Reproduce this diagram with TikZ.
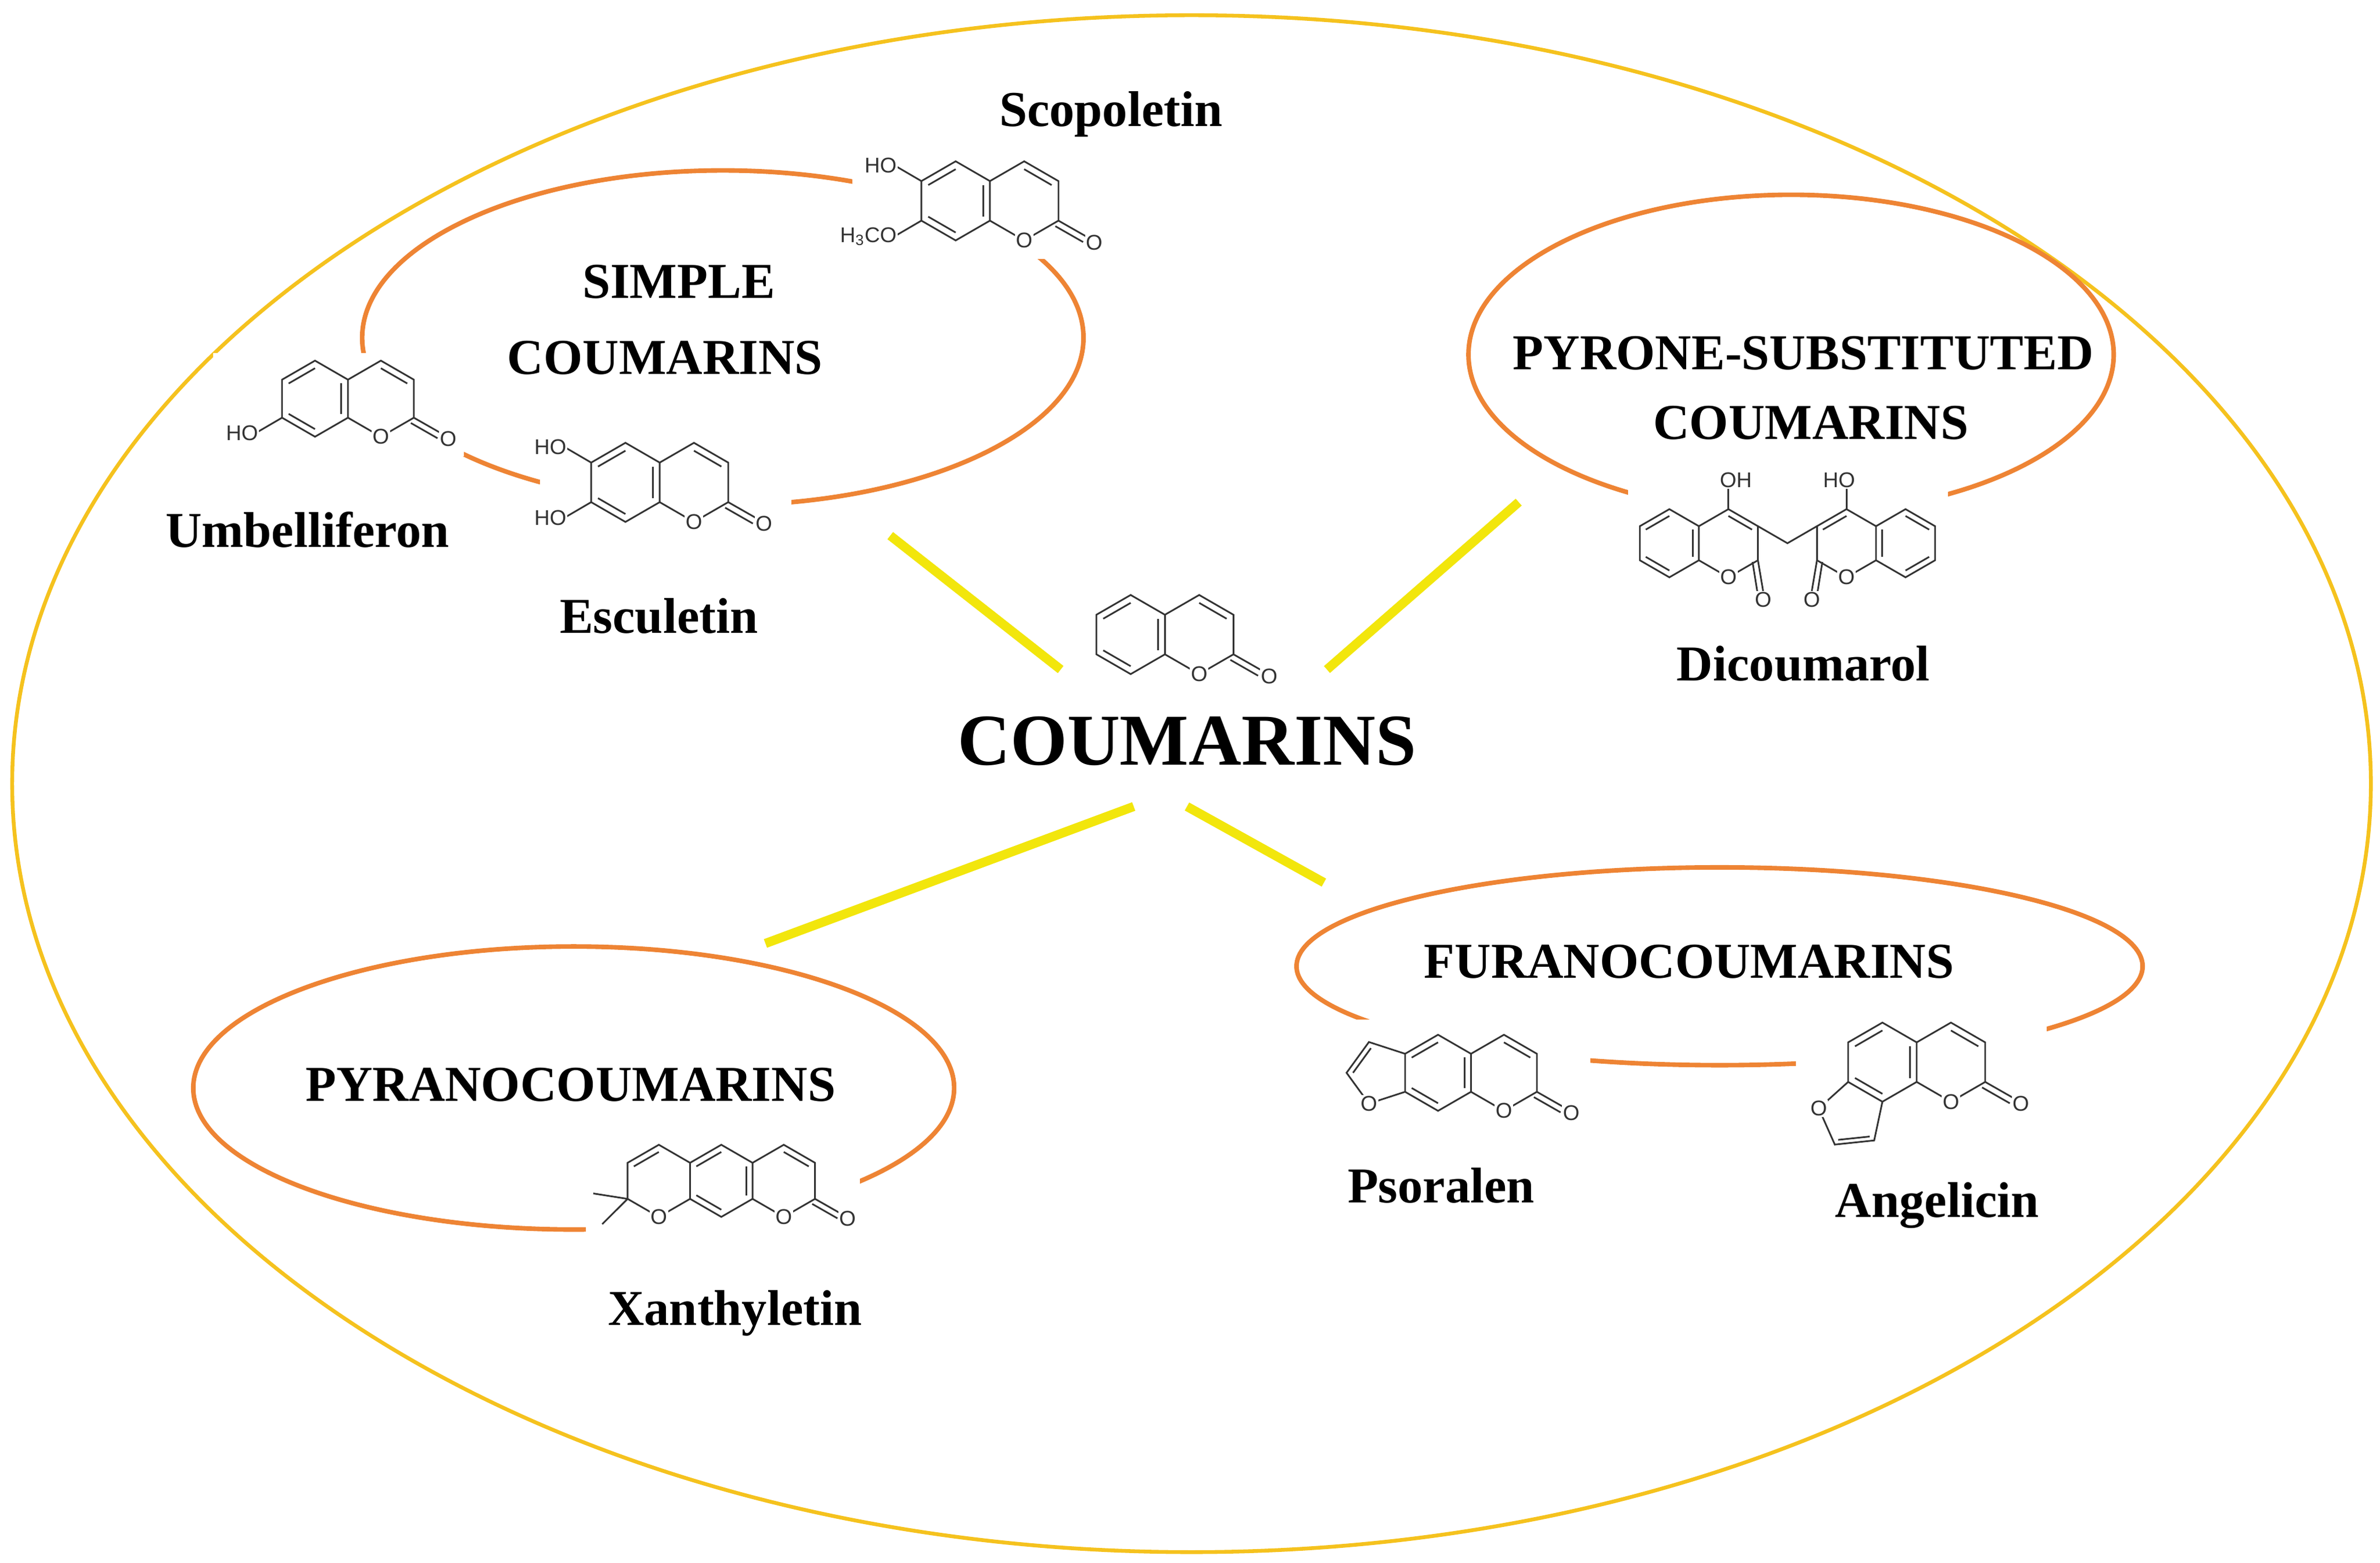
\documentclass[tikz,border=0pt]{standalone}
\usepackage{fontspec}
\setmainfont{Liberation Serif}
\newfontfamily\atomfont{Liberation Sans}
\usetikzlibrary{calc}
\definecolor{bigell}{HTML}{F5C21E}
\definecolor{orell}{HTML}{EE8434}
\definecolor{yel}{HTML}{F2E60C}
\newcommand\ibond[3]{\draw ($(#1)!0.2!(#3)$)--($(#2)!0.2!(#3)$);}
\newcommand\mycbase{%
  \draw (0,-1)--(0.866,-0.5)--(0.866,0.5)--(0,1)--(-0.866,0.5)--(-0.866,-0.5)--cycle;
  \draw (0.866,-0.5)--(1.732,-1)--(2.598,-0.5)--(2.598,0.5)--(1.732,1)--(0.866,0.5);
  \ibond{-0.866,-0.5}{0,-1}{0,0}
  \ibond{0.866,-0.5}{0.866,0.5}{0,0}
  \ibond{0,1}{-0.866,0.5}{0,0}
  \ibond{1.732,-1}{2.598,-0.5}{1.732,0}
  \node[atom] at (1.732,1) {O};}
\newcommand\mycoum{%
  \mycbase
  \draw (2.598,0.5)--(3.3,0.9);
  \draw (2.52,0.64)--(3.22,1.04);
  \node[atom] at (3.5,1.05) {O};}
\newcommand\mydhalf{%
  \mycbase
  \draw (2.598,0.5)--(2.75,1.4);
  \draw (2.44,0.55)--(2.58,1.42);
  \node[atom] at (2.75,1.65) {O};
  \draw (1.732,-1)--(1.732,-1.6);}
\tikzset{
 lab/.style={font=\fontsize{33}{35}\selectfont\bfseries,align=center},
 atom/.style={font=\atomfont\fontsize{14}{14}\selectfont,fill=white,inner sep=0.6pt},
 mol/.style={line width=1.1pt,black!80},
 mask/.style={fill=white,draw=none}
}
\begin{document}
\begin{tikzpicture}[x=1pt,y=-1pt]
\useasboundingbox (0,0) rectangle (1564,1027);
\fill[white] (0,0) rectangle (1564,1027);
% big ellipse
\draw[bigell,line width=2.5pt] (783,515) ellipse [x radius=775,y radius=505];
% orange ellipses
\draw[orell,line width=3pt] (475,222) ellipse [x radius=237,y radius=110];
\draw[orell,line width=3pt] (1177,233) ellipse [x radius=212,y radius=105];
\draw[orell,line width=3pt] (377,715) ellipse [x radius=250,y radius=93];
\draw[orell,line width=3pt] (1130,635) ellipse [x radius=278,y radius=65];
% connectors
\coordinate (y1a) at (585,352); \coordinate (y1b) at (697,440);
\coordinate (y2a) at (998,330); \coordinate (y2b) at (872,440);
\coordinate (y3a) at (745,530); \coordinate (y3b) at (503,620);
\coordinate (y4a) at (780,530); \coordinate (y4b) at (870,580);
\draw[yel,line width=6pt] (y1a)--(y1b);
\draw[yel,line width=6pt] (y2a)--(y2b);
\draw[yel,line width=6pt] (y3a)--(y3b);
\draw[yel,line width=6pt] (y4a)--(y4b);
% masks
\fill[mask] (560,90) rectangle (735,170);
\fill[mask] (140,232) rectangle (305,300);
\fill[mask] (355,280) rectangle (520,350);
\fill[mask] (1070,305) rectangle (1280,400);
\fill[mask] (880,670) rectangle (1045,740);
\fill[mask] (1180,660) rectangle (1345,750);
\fill[mask] (385,745) rectangle (565,810);
% central coumarin
\begin{scope}[mol,shift={(743,417)},scale=26]
 \mycoum
\end{scope}
% umbelliferone
\begin{scope}[mol,shift={(207,262)},scale=25]
 \mycoum
 \draw (-0.866,0.5)--(-1.5,0.87);
 \node[atom,anchor=east] at (-1.45,0.9) {HO};
\end{scope}
% esculetin
\begin{scope}[mol,shift={(411,317)},scale=26]
 \mycoum
 \draw (-0.866,0.5)--(-1.5,0.87);
 \node[atom,anchor=east] at (-1.45,0.9) {HO};
 \draw (-0.866,-0.5)--(-1.5,-0.87);
 \node[atom,anchor=east] at (-1.45,-0.9) {HO};
\end{scope}
% scopoletin
\begin{scope}[mol,shift={(628,132)},scale=26]
 \mycoum
 \draw (-0.866,0.5)--(-1.5,0.87);
 \node[atom,anchor=east] at (-1.45,0.9) {H\textsubscript{3}CO};
 \draw (-0.866,-0.5)--(-1.5,-0.87);
 \node[atom,anchor=east] at (-1.45,-0.9) {HO};
\end{scope}
% dicoumarol
\begin{scope}[mol,shift={(1097,357)},scale=22.4]
 \mydhalf
 \draw (2.598,-0.5)--(3.464,0)--(4.33,-0.5);
 \node[atom] at (1.95,-1.85) {OH};
 \node[atom] at (4.98,-1.85) {HO};
\end{scope}
\begin{scope}[mol,shift={(1252.2,357)},xscale=-22.4,yscale=22.4]
 \mydhalf
\end{scope}
% psoralen
\begin{scope}[mol,shift={(945,705)},scale=25]
 \mycoum
 \draw (-0.866,0.5)--(-1.817,0.809)--(-2.405,0)--(-1.817,-0.809)--(-0.866,-0.5);
 \ibond{-2.405,0}{-1.817,-0.809}{-1.554,0}
 \node[atom] at (-1.817,0.809) {O};
\end{scope}
% angelicin
\begin{scope}[mol,shift={(1237,698)},scale=26]
 \mycoum
 \draw (0,1)--(-0.208,1.979)--(-1.203,2.083)--(-1.61,1.169)--(-0.866,0.5);
 \ibond{-0.208,1.979}{-1.203,2.083}{-0.777,1.486}
 \node[atom] at (-1.61,1.169) {O};
\end{scope}
% xanthyletin
\begin{scope}[mol,shift={(474,776)},scale=23.7]
 \mycoum
 \draw (-0.866,-0.5)--(-1.732,-1)--(-2.598,-0.5)--(-2.598,0.5)--(-1.732,1)--(-0.866,0.5);
 \ibond{-1.732,-1}{-2.598,-0.5}{-1.732,0}
 \draw (-2.598,0.5)--(-3.55,0.35);
 \draw (-2.598,0.5)--(-3.3,1.2);
 \node[atom] at (-1.732,1) {O};
\end{scope}
% labels
\node[lab] (scop) at (730,75) {Scopoletin};
\node[lab] (simple1) at (446,185) {SIMPLE};
\node[lab] (simple2) at (437,235) {COUMARINS};
\node[lab] (umb) at (202,348) {Umbelliferon};
\node[lab] (esc) at (433,405) {Esculetin};
\node[lab] (pyrone1) at (1185,232) {PYRONE-SUBSTITUTED};
\node[lab] (pyrone2) at (1190,278) {COUMARINS};
\node[lab] (dic) at (1185,436) {Dicoumarol};
\node[lab,font=\fontsize{48}{50}\selectfont\bfseries] (main) at (780,487) {COUMARINS};
\node[lab] (furano) at (1110,632) {FURANOCOUMARINS};
\node[lab] (pso) at (947,779) {Psoralen};
\node[lab] (ang) at (1273,792) {Angelicin};
\node[lab] (pyrano) at (375,713) {PYRANOCOUMARINS};
\node[lab] (xan) at (483,863) {Xanthyletin};
\end{tikzpicture}
\end{document}
